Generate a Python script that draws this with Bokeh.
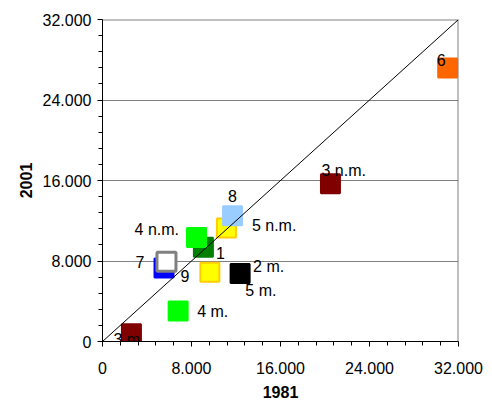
import math
from bokeh.plotting import figure
from bokeh.core.properties import value
from bokeh.models import (ColumnDataSource, FixedTicker, Span, Slope, Title, LabelSet)
from bokeh.embed import file_html
from bokeh.resources import INLINE

# ---------------- data ----------------
names = ["3 m.", "4 m.", "5 m.", "2 m.", "9", "7", "1", "4 n.m.", "5 n.m.", "8", "3 n.m.", "6"]
x1981 = [2600, 6800, 9650, 12370, 5530, 5750, 9070, 8450, 11140, 11690, 20490, 31030]
y2001 = [770, 3020, 6890, 6760, 7310, 7930, 9360, 10330, 11290, 12500, 15670, 27170]
fills = ["#800000", "#00FF00", "#FFFF00", "#000000", "#0000FF", "#FFFFFF",
         "#008000", "#00FF00", "#FFFF00", "#99CCFF", "#800000", "#FF6600"]
borders = ["#800000", "#00FF00", "#FFCC00", "#000000", "#0000FF", "#808080",
           "#008000", "#00FF00", "#FFCC00", "#99CCFF", "#800000", "#FF6600"]
tick_values = [0, 8000, 16000, 24000, 32000]
tick_labels = ["0", "8.000", "16.000", "24.000", "32.000"]
minor_values = [i * 1600 for i in range(21)]
x_title = "1981"
y_title = "2001"

# label placement (pixel offsets from marker centre, alignment)
label_style = {
    "3 m.":   (-18, 6, "left"),
    "4 m.":   (19, 0, "left"),
    "5 m.":   (35.5, 18, "left"),
    "2 m.":   (13, -7, "left"),
    "9":      (16.5, 8.5, "left"),
    "7":      (-22, 0.5, "right"),
    "1":      (12.5, 6, "left"),
    "4 n.m.": (-17.5, -8.5, "right"),
    "5 n.m.": (25.5, -2, "left"),
    "8":      (0, -19.5, "center"),
    "3 n.m.": (-9, -13.5, "left"),
    "6":      (-11, -8, "left"),
}

FONT = "Liberation Sans"
W, H = 484, 404
BL, BR, BT, BB = 102, 26, 19, 62

p = figure(width=W, height=H, output_backend="svg", toolbar_location=None,
           x_range=(0, 32000), y_range=(0, 32000),
           min_border_left=BL, min_border_right=BR, min_border_top=BT,
           min_border_bottom=BB)
p.outline_line_color = None
p.background_fill_color = "white"
p.border_fill_color = "white"

for ax in (p.xaxis[0], p.yaxis[0]):
    ax.ticker = FixedTicker(ticks=tick_values, minor_ticks=minor_values)
    ax.major_label_overrides = {v: t for v, t in zip(tick_values, tick_labels)}
    ax.axis_line_color = "black"
    ax.axis_line_width = 1
    ax.major_tick_line_color = "black"
    ax.minor_tick_line_color = "black"
    ax.major_tick_out = 5
    ax.major_tick_in = 0
    ax.minor_tick_out = 4
    ax.minor_tick_in = 0
    ax.major_label_text_font = FONT
    ax.major_label_text_font_size = "16px"
    ax.major_label_text_color = "black"
p.xaxis.major_label_standoff = 15
p.yaxis.major_label_standoff = 6

p.xgrid.grid_line_color = None
p.ygrid.ticker = FixedTicker(ticks=tick_values[1:-1])
p.ygrid.grid_line_color = "#808080"
p.ygrid.grid_line_width = 1

# plot-area border (top and right)
p.add_layout(Span(location=32000, dimension="width", line_color="#808080", line_width=2))
p.add_layout(Span(location=32000, dimension="height", line_color="#808080", line_width=2))

# diagonal y = x
p.add_layout(Slope(gradient=1, y_intercept=0, line_color="black", line_width=1))

lw = [3 if n == "7" else 2 for n in names]
src = ColumnDataSource(dict(x=x1981, y=y2001, fill=fills, line=borders, lw=lw,
                            name=names,
                            xo=[label_style[n][0] for n in names],
                            yo=[-label_style[n][1] for n in names],
                            al=[label_style[n][2] for n in names]))
p.scatter("x", "y", source=src, marker="square", size=19, fill_color="fill",
          line_color="line", line_width="lw")

labels = LabelSet(x="x", y="y", text="name", source=src, x_offset="xo", y_offset="yo",
                  text_align="al", text_baseline="middle", text_font=value(FONT),
                  text_font_size=value("16px"), text_color="black")
p.add_layout(labels)

# axis titles, shifted like the original (not centred on the axis)
p.add_layout(Title(text=x_title, align="center", offset=-25, standoff=14,
                   text_color="black",
                   text_font=FONT, text_font_size="16px", text_font_style="bold"),
             "below")
p.add_layout(Title(text=y_title, align="center", offset=19, standoff=15,
                   text_color="black",
                   text_font=FONT, text_font_size="16px", text_font_style="bold"),
             "left")

open("out.html", "w").write(file_html(p, INLINE))
